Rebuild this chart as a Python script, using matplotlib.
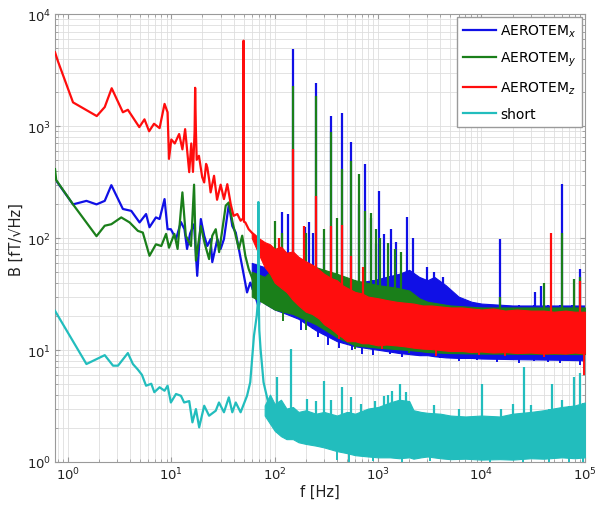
import matplotlib
matplotlib.use('Agg')
import matplotlib.pyplot as plt
import numpy as np

# ---- low frequency part of each spectrum (f [Hz], B [fT/sqrt(Hz)])
blue_f = [0.75, 1.12, 1.51, 1.89, 2.27, 2.63, 3.4, 4.1, 4.93, 5.7, 6.15, 7.1, 7.7, 8.6, 9.2, 9.9,
          11.1, 12.4, 13.4, 14.2, 15.2, 16.6, 17.8, 19.3, 20.8, 22.3, 24, 24.9, 27.9, 30, 32.3,
          36, 38.9, 42, 45, 50.4, 54, 58, 65, 70, 75, 81, 90]
blue_b = [337, 200, 215, 200, 215, 297, 182, 175, 138, 164, 125, 153, 148, 223, 120, 120,
          98, 139, 120, 80, 110, 133, 46, 148, 105, 85, 98, 61, 98, 80, 98,
          200, 128, 112, 80, 46, 32.7, 40, 30.5, 24, 38, 30.5, 35]

green_f = [0.75, 0.77, 1.12, 1.89, 2.27, 2.63, 3.28, 3.95, 4.75, 5.3, 6.15, 7.1, 8.0, 8.9, 9.5,
           10.7, 11.5, 12.8, 13.8, 15.5, 16.6, 17.3, 19.3, 21, 23.2, 24.9, 26.9, 29, 33.6, 36,
           39, 42, 45, 48.5, 52, 56, 63, 69, 75, 84, 95]
green_b = [413, 330, 200, 104, 129, 133, 153, 138, 116, 112, 69.5, 88, 85, 109, 82,
           109, 80, 256, 105, 85, 300, 63, 128, 90, 65, 105, 120, 75, 195, 208,
           140, 105, 80, 105, 69.5, 53, 40, 45, 35, 40, 30]

red_f = [0.75, 0.8, 1.12, 1.9, 2.27, 2.65, 3.4, 3.8, 4.9, 5.5, 6.1, 6.8, 7.7, 8.6, 9.2, 9.5,
         10, 10.8, 11.9, 12.8, 13.6, 14.9, 15.6, 16.2, 16.8, 17.0, 17.3, 17.6, 18.5, 19.9, 20.8,
         21.7, 22.3, 23.2, 24, 25.9, 27.7, 30, 32.3, 34.8, 37.6, 40, 43.5, 46.8, 49.6, 50,
         50.4, 52, 56, 60, 65]
red_b = [4570, 3800, 1630, 1230, 1480, 2180, 1330, 1400, 980, 1150, 900, 1050, 960, 1580, 1330, 510,
         760, 700, 850, 620, 940, 388, 700, 390, 900, 2200, 900, 500, 543, 350, 314,
         460, 427, 335, 256, 360, 220, 300, 223, 303, 200, 158, 164, 143, 150, 5800,
         140, 138, 120, 112, 105]

cyan_f = [0.75, 1.51, 2.27, 2.73, 3.05, 3.8, 4.25, 4.74, 5.2, 5.7, 6.4, 6.85, 7.7, 8.6, 9.2, 9.9,
          11.1, 12.4, 13.3, 14.9, 16, 17.3, 18.6, 20.8, 23.2, 26.9, 28.9, 32.3, 36, 38.9, 42,
          46.8, 54, 58, 63, 67, 69, 69.5, 70, 71, 73, 78, 88]
cyan_b = [22.4, 7.5, 9.0, 7.25, 7.25, 9.4, 7.5, 6.7, 6.0, 4.8, 5.0, 4.2, 4.65, 4.33, 4.8, 3.4,
          4.05, 3.9, 3.4, 3.5, 2.26, 2.97, 2.04, 3.18, 2.59, 2.87, 3.4, 2.78, 3.78, 2.78, 3.4,
          2.78, 3.9, 5.15, 13.4, 20.2, 28, 210, 30, 15, 10.2, 5.15, 3.18]

# ---- dense noise floor: lower / upper envelope
blue_band_f = [60, 80, 100, 130, 170, 250, 400, 600, 900, 1200, 1600, 2000, 2500, 3000, 3500,
               4500, 6000, 8000, 1e4, 2e4, 5e4, 1e5]
blue_band_lo = [35, 26, 23, 21, 19, 15, 12, 10.8, 10.2, 9.8, 9.4, 9.2, 9.0, 9.0, 8.8,
                8.6, 8.5, 8.5, 8.4, 8.3, 8.2, 8.1]
blue_band_hi = [60, 55, 58, 60, 55, 50, 44, 40, 42, 45, 48, 52, 45, 42, 45,
                38, 30, 27, 26, 25, 25, 25]

green_band_f = [60, 80, 100, 150, 250, 400, 600, 1000, 1500, 2000, 2500, 3000, 5000, 1e4, 1e5]
green_band_lo = [30, 26, 23, 21, 17, 13, 11, 10.5, 10.2, 10, 9.8, 9.6, 9.4, 9.3, 9.2]
green_band_hi = [50, 45, 55, 60, 55, 48, 42, 38, 36, 34, 29, 27, 25, 24, 24]

red_band_f = [60, 70, 80, 90, 100, 115, 130, 150, 170, 200, 230, 270, 300, 350, 400, 450, 500,
              600, 700, 800, 1000, 1200, 1500, 1800, 2200, 2700, 3300, 4000, 5000, 6500, 8000,
              1e4, 1.3e4, 1.7e4, 2.2e4, 3e4, 4e4, 5e4, 6.5e4, 8e4, 1e5]
red_band_lo = [100, 72, 55, 48, 40, 36, 33, 28, 25, 22, 21, 19, 17, 15.5, 14, 13, 12,
               12, 11.5, 11.5, 11, 11.2, 11, 10.8, 10.5, 10.3, 10.2, 10, 9.8, 9.8, 9.6,
               9.7, 9.5, 9.6, 9.4, 9.5, 9.3, 9.4, 9.3, 9.5, 9.3]
red_band_hi = [112, 100, 92, 88, 80, 84, 74, 76, 68, 62, 58, 52, 48, 44, 42, 38, 36,
               33, 32, 30, 29, 28, 27, 26.5, 26, 25, 25, 24.5, 24, 24, 23.5,
               23, 23.5, 22.5, 23, 22.5, 22.5, 22, 22.5, 22, 22]

cyan_band_f = [80, 90, 100, 115, 130, 150, 170, 200, 250, 300, 400, 500, 600, 800, 1000, 1300,
               1600, 2000, 2200, 2600, 3000, 4000, 5000, 7000, 1e4, 1.5e4, 2e4, 3e4, 4e4, 6e4,
               8e4, 1e5]
cyan_band_lo = [2.6, 2.2, 1.9, 1.7, 1.6, 1.6, 1.5, 1.45, 1.4, 1.35, 1.25, 1.2, 1.15, 1.12, 1.1,
                1.1, 1.08, 1.1, 1.07, 1.1, 1.12, 1.08, 1.06, 1.07, 1.05, 1.06, 1.05, 1.08, 1.07,
                1.1, 1.08, 1.1]
cyan_band_hi = [3.2, 4.0, 3.3, 3.6, 3.0, 3.1, 2.8, 2.9, 2.7, 2.8, 2.6, 2.8, 2.7, 3.0, 3.1, 3.4,
                3.6, 3.5, 2.9, 2.8, 2.75, 2.7, 2.6, 2.55, 2.6, 2.55, 2.7, 2.8, 2.9, 3.1, 3.2, 3.4]

# ---- line peaks (f, top)
blue_pk_f = [117, 135, 150, 197, 215, 237, 250, 300, 350, 450, 550, 650, 750, 850, 950, 1020,
             1150, 1325, 1500, 1900, 2200, 3000, 3500, 4200, 15000, 33000, 38000, 60000, 89000]
blue_pk_b = [170, 163, 4880, 125, 139, 110, 2450, 100, 1236, 1297, 715, 200, 458, 150, 88, 265,
             108, 120, 92, 153, 100, 55, 50, 45, 98, 33, 37, 303, 52.7]
green_pk_f = [100, 117, 150, 200, 250, 300, 350, 400, 450, 550, 650, 750, 850, 950, 1050, 1250,
              1450, 1650, 15000, 40000, 60000, 78000, 89000]
green_pk_b = [143, 110, 2275, 110, 1870, 120, 884, 150, 413, 490, 373, 175, 169, 120, 100, 90,
              80, 75, 30, 40, 112, 43, 45]
red_pk_f = [110, 150, 190, 250, 350, 450, 550, 720, 47400, 89000]
red_pk_b = [100, 623, 128, 238, 129, 130, 69, 55, 112, 41]
cyan_pk_f = [105, 145, 204, 250, 300, 350, 450, 550, 690, 930, 1150, 1250, 1350, 1620, 1850,
             3500, 6000, 10200, 15300, 20000, 26000, 30000, 48000, 60000, 78000, 90000]
cyan_pk_b = [5.7, 10.2, 3.65, 3.5, 5.3, 3.6, 4.65, 3.8, 3.3, 3.5, 3.9, 4.0, 4.3, 5.0, 4.2,
             3.2, 3.0, 5.0, 3.0, 3.3, 7.0, 3.2, 5.0, 3.6, 5.8, 6.3]

# ---- downward dips below the noise floor (f, bottom)
blue_dip_f = [180, 260, 330, 420, 560, 700, 900, 1300, 1700, 2600, 4000, 6000, 9000, 14000,
              23000, 32000, 44000, 58000, 75000, 90000]
blue_dip_b = [15, 13, 11, 10.5, 10, 9.3, 9.0, 9.2, 8.6, 8.8, 8.5, 8.0, 8.2, 7.8,
              7.6, 8.0, 7.8, 7.6, 8.0, 7.4]
green_dip_f = [120, 200, 600, 2000]
green_dip_b = [18, 15, 10.3, 9.4]
red_dip_f = [420, 1100, 3600, 9500, 17000, 40000, 99000]
red_dip_b = [12.5, 10.2, 8.9, 9.0, 8.9, 8.7, 6.0]
cyan_dip_f = [400, 520, 900, 1700, 3200, 12000, 25000, 45000, 70000, 95000]
cyan_dip_b = [1.05, 1.0, 1.02, 1.0, 1.02, 1.0, 1.0, 1.0, 1.0, 1.0]

series = [
    ('AEROTEM$_x$', '#1010e6', blue_f, blue_b, blue_band_f, blue_band_lo, blue_band_hi,
     blue_pk_f, blue_pk_b, blue_dip_f, blue_dip_b),
    ('AEROTEM$_y$', '#1a7f1a', green_f, green_b, green_band_f, green_band_lo, green_band_hi,
     green_pk_f, green_pk_b, green_dip_f, green_dip_b),
    ('AEROTEM$_z$', '#ff0d0d', red_f, red_b, red_band_f, red_band_lo, red_band_hi,
     red_pk_f, red_pk_b, red_dip_f, red_dip_b),
    ('short', '#22bdbd', cyan_f, cyan_b, cyan_band_f, cyan_band_lo, cyan_band_hi,
     cyan_pk_f, cyan_pk_b, cyan_dip_f, cyan_dip_b),
]

fig = plt.figure(figsize=(5.98, 5.06), dpi=100)
ax = fig.add_axes([0.092, 0.085, 0.886, 0.885])
ax.set_xscale('log')
ax.set_yscale('log')

for i, (lab, col, f, b, bf, blo, bhi, pf, pb, df, db) in enumerate(series):
    z = 2 + i
    ax.plot(f, b, color=col, lw=1.6, zorder=z, label=lab)
    ax.fill_between(bf, blo, bhi, color=col, lw=0.8, edgecolor=col, zorder=z)
    lbf = np.log10(bf)
    base = 10 ** np.interp(np.log10(pf), lbf, np.log10(blo))
    ax.vlines(pf, base, pb, color=col, lw=1.6, zorder=z)
    top = 10 ** np.interp(np.log10(df), lbf, np.log10(bhi))
    ax.vlines(df, db, top, color=col, lw=1.4, zorder=z)

ax.set_xlim(0.75, 1e5)
ax.set_ylim(1, 1e4)
ax.grid(True, which='both', color='#dedede', lw=0.6)
ax.set_axisbelow(True)
for s in ax.spines.values():
    s.set_color('#9a9a9a')
    s.set_linewidth(0.8)
ax.tick_params(which='both', direction='in', color='#9a9a9a', labelsize=9.5,
               labelcolor='#222222', top=True, right=True, pad=3)
ax.set_xlabel('f [Hz]', fontsize=10.5, color='#222222', labelpad=1)
ax.set_ylabel('B [fT/\u221aHz]', fontsize=10.5, color='#222222', labelpad=2)

leg = ax.legend(loc='upper right', fontsize=10, fancybox=False, framealpha=1,
                edgecolor='#9a9a9a', borderaxespad=0.2, handlelength=2.4,
                labelspacing=0.8, handletextpad=0.3, borderpad=0.4)
for ln in leg.get_lines():
    ln.set_linewidth(1.6)

fig.savefig('out.png', dpi=100)
